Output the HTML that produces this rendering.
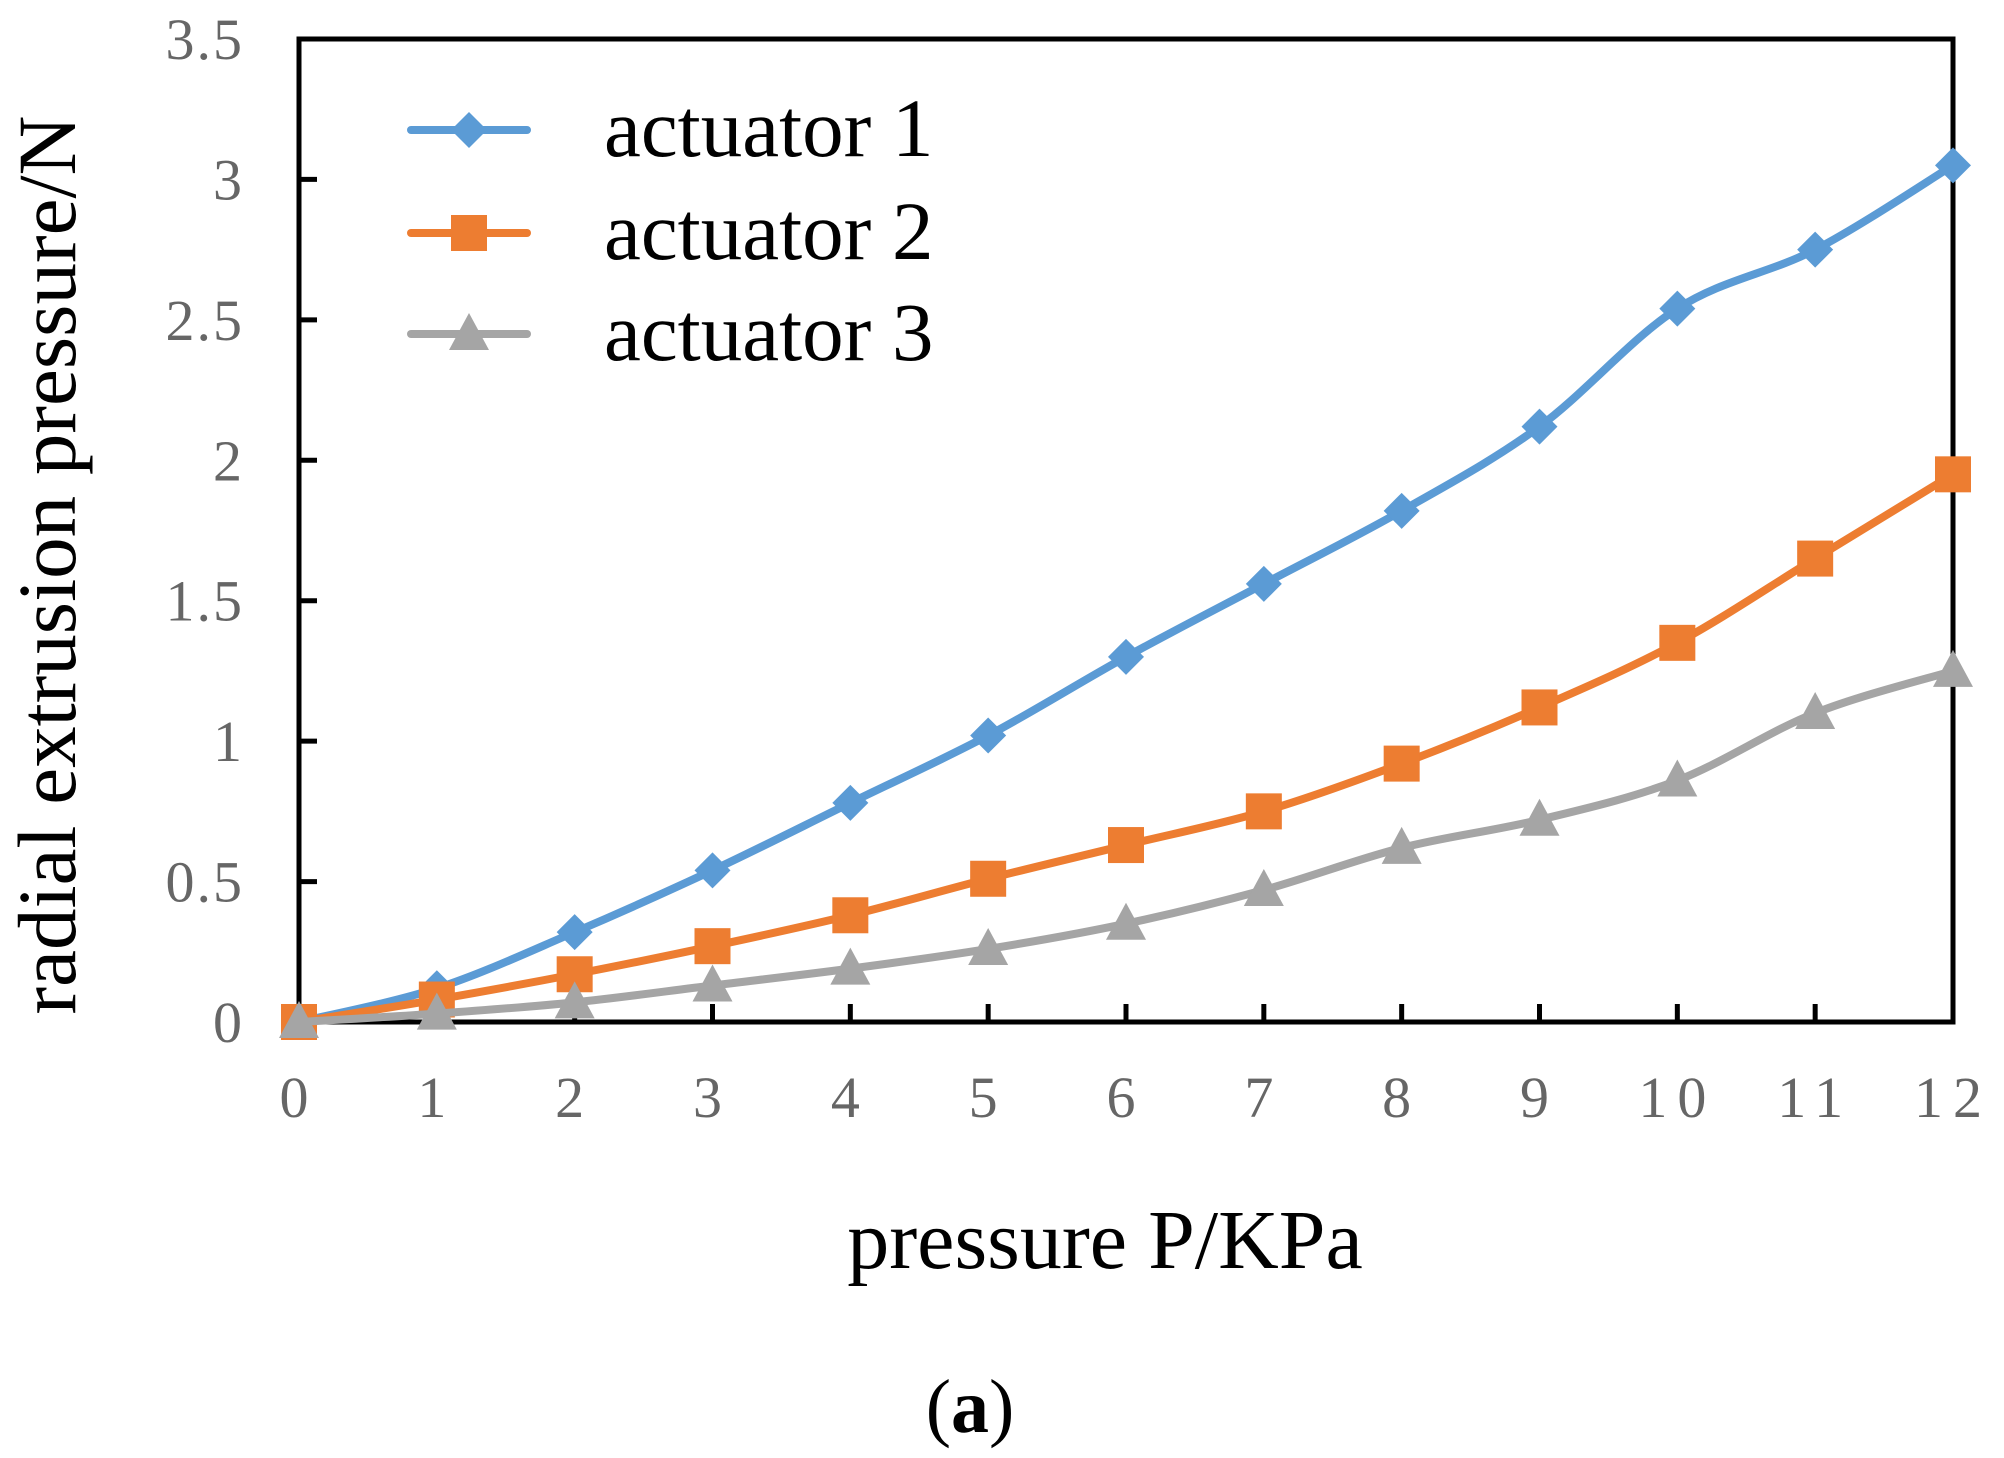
<!DOCTYPE html>
<html><head><meta charset="utf-8"><style>
html,body{margin:0;padding:0;background:#fff;}
svg{display:block;}
text{font-family:"Liberation Serif",serif;}
</style></head><body>
<svg id="chart" width="2004" height="1458" viewBox="0 0 2004 1458">
<g id="grid"></g>
<g id="series"></g>
<g id="legend"></g>
<text x="1105" y="1268" font-size="84" text-anchor="middle" fill="#000">pressure P/KPa</text>
<text transform="translate(75,565) rotate(-90)" font-size="83" text-anchor="middle" fill="#000">radial extrusion pressure/N</text>
<text x="970" y="1432" font-size="76" text-anchor="middle" fill="#000">(<tspan font-weight="bold">a</tspan>)</text>
</svg>
<script>
const categories=[0,1,2,3,4,5,6,7,8,9,10,11,12];
const seriesNames=["actuator 1","actuator 2","actuator 3"];
const actuator1=[0,0.12,0.32,0.54,0.78,1.02,1.30,1.56,1.82,2.12,2.54,2.75,3.05];
const actuator2=[0,0.08,0.17,0.27,0.38,0.51,0.63,0.75,0.92,1.12,1.35,1.65,1.95];
const actuator3=[0,0.03,0.07,0.13,0.19,0.26,0.35,0.47,0.62,0.72,0.86,1.10,1.25];
const yTicks=[0,0.5,1,1.5,2,2.5,3,3.5];
const yTickLabels=["0","0.5","1","1.5","2","2.5","3","3.5"];
const xTickLabels=["0","1","2","3","4","5","6","7","8","9","10","11","12"];

const L=299,R=1953,T=39,B=1022;
const xs=v=>L+(v-0)/(12-0)*(R-L);
const ys=v=>B-(v-0)/(3.5-0)*(B-T);
const NS="http://www.w3.org/2000/svg";
function mk(tag,attrs,parent){const e=document.createElementNS(NS,tag);for(const k in attrs)e.setAttribute(k,attrs[k]);parent.appendChild(e);return e;}
const grid=document.getElementById('grid'),ser=document.getElementById('series'),leg=document.getElementById('legend');

const frame=mk('rect',{x:L,y:T,width:R-L,height:B-T,fill:'none',stroke:'#000','stroke-width':5},grid);


yTicks.forEach((v,i)=>{
  const t=mk('line',{x1:L,x2:L+18,y1:ys(v),y2:ys(v),stroke:'#000','stroke-width':5},grid);
  
  
  const lb=mk('text',{x:244,y:ys(v)+20,'font-size':58,'text-anchor':'end',fill:'#666','letter-spacing':'2'},grid);
  lb.textContent=yTickLabels[i];
  
  
});
categories.forEach((c,i)=>{
  const t=mk('line',{x1:xs(c),x2:xs(c),y1:B,y2:B-18,stroke:'#000','stroke-width':5},grid);
  
  
  const lb=mk('text',{x:xs(c),y:1117,'font-size':58,'text-anchor':'middle',fill:'#666','letter-spacing':'10'},grid);
  lb.textContent=xTickLabels[i];
  
  
});

function smooth(pts){
  let d=`M${pts[0][0]},${pts[0][1]}`;
  for(let i=0;i<pts.length-1;i++){
    const p0=pts[i-1]||pts[i],p1=pts[i],p2=pts[i+1],p3=pts[i+2]||p2;
    const t=6;
    d+=` C${p1[0]+(p2[0]-p0[0])/t},${p1[1]+(p2[1]-p0[1])/t} ${p2[0]-(p3[0]-p1[0])/t},${p2[1]-(p3[1]-p1[1])/t} ${p2[0]},${p2[1]}`;
  }
  return d;
}
function marker(type,x,y,color,parent){
  let e;
  if(type==='diamond') e=mk('polygon',{points:`${x},${y-18} ${x+18},${y} ${x},${y+18} ${x-18},${y}`,fill:color},parent);
  else if(type==='square') e=mk('rect',{x:x-18,y:y-18,width:36,height:36,fill:color},parent);
  else e=mk('polygon',{points:`${x},${y-21} ${x+20},${y+16} ${x-20},${y+16}`,fill:color},parent);
  return e;
}
const all=[actuator1,actuator2,actuator3];
const colors=["#5B9BD5","#ED7D31","#A5A5A5"];
const types=["diamond","square","triangle"];
const names=["actuator-1","actuator-2","actuator-3"];
all.forEach((vals,si)=>{
  const g=mk('g',{},ser);
  
  
  const pts=vals.map((v,i)=>[xs(categories[i]),ys(v)]);
  const p=mk('path',{d:smooth(pts),fill:'none',stroke:colors[si],'stroke-width':8,'stroke-linejoin':'round','stroke-linecap':'round'},g);
  
  
  pts.forEach(pt=>{
    const m=marker(types[si],pt[0],pt[1],colors[si],g);
    
    
  });
});
const legY=[130,233,334];
seriesNames.forEach((n,i)=>{
  const g=mk('g',{},leg);
  
  
  mk('line',{x1:411,x2:527,y1:legY[i],y2:legY[i],stroke:colors[i],'stroke-width':8,'stroke-linecap':'round'},g);
  marker(types[i],469,legY[i],colors[i],g);
  const t=mk('text',{x:604,y:legY[i]+26,'font-size':83,fill:'#000'},g);
  t.textContent=n;
});
</script>
</body></html>
